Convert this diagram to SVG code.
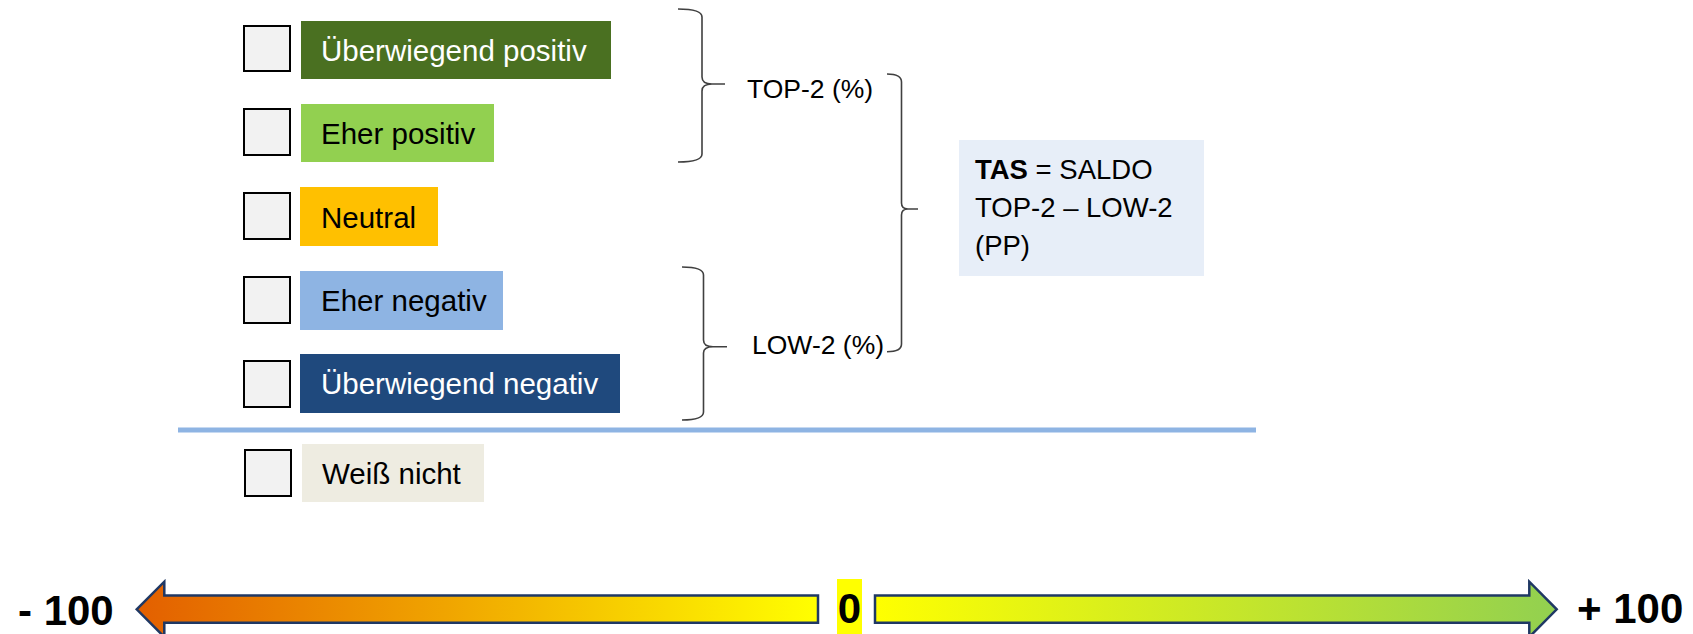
<svg xmlns="http://www.w3.org/2000/svg" width="1693" height="634" viewBox="0 0 1693 634">
  <style>
    .cb { fill: #F2F2F2; stroke: #000; stroke-width: 2; }
    .lbl { font-family: "Liberation Sans", Arial, sans-serif; font-size: 29.5px; }
    .wt { fill: #FFFFFF; }
    .bk { fill: #000000; }
    .brace { fill: none; stroke: #404040; stroke-width: 1.6; }
    .sm { font-family: "Liberation Sans", Arial, sans-serif; font-size: 26.5px; fill: #000; }
    .tas { font-family: "Liberation Sans", Arial, sans-serif; font-size: 27.5px; fill: #000; }
    .big { font-family: "Liberation Sans", Arial, sans-serif; font-size: 42px; font-weight: bold; fill: #000; }
    .arrow { stroke: #1F3864; stroke-width: 2.5; stroke-linejoin: miter; }
  </style>
  <defs>
    <linearGradient id="gradNeg" x1="0" y1="0" x2="1" y2="0">
      <stop offset="0" stop-color="#E35F00"/>
      <stop offset="0.45" stop-color="#F0A400"/>
      <stop offset="1" stop-color="#FFFF00"/>
    </linearGradient>
    <linearGradient id="gradPos" x1="0" y1="0" x2="1" y2="0">
      <stop offset="0" stop-color="#FFFF00"/>
      <stop offset="1" stop-color="#92D050"/>
    </linearGradient>
  </defs>
  <rect width="1693" height="634" fill="#FFFFFF"/>

  <g id="opt-ueberwiegend-positiv">
    <rect class="cb" x="244" y="26" width="46" height="45"/>
    <rect x="301" y="21" width="310" height="58" fill="#4A7021"/>
    <text class="lbl wt" x="321" y="61">Überwiegend positiv</text>
  </g>
  <g id="opt-eher-positiv">
    <rect class="cb" x="244" y="109" width="46" height="46"/>
    <rect x="301" y="104" width="193" height="58" fill="#92D050"/>
    <text class="lbl bk" x="321" y="144">Eher positiv</text>
  </g>
  <g id="opt-neutral">
    <rect class="cb" x="244" y="193" width="46" height="46"/>
    <rect x="300" y="187" width="138" height="59" fill="#FFC000"/>
    <text class="lbl bk" x="321" y="228">Neutral</text>
  </g>
  <g id="opt-eher-negativ">
    <rect class="cb" x="244" y="277" width="46" height="46"/>
    <rect x="300" y="271" width="203" height="59" fill="#8EB4E3"/>
    <text class="lbl bk" x="321" y="311">Eher negativ</text>
  </g>
  <g id="opt-ueberwiegend-negativ">
    <rect class="cb" x="244" y="361" width="46" height="46"/>
    <rect x="300" y="354" width="320" height="59" fill="#1F497D"/>
    <text class="lbl wt" x="321" y="394">Überwiegend negativ</text>
  </g>
  <g id="separator">
    <rect x="178" y="427.5" width="1078" height="5" fill="#8EB4E3"/>
  </g>
  <g id="opt-weiss-nicht">
    <rect class="cb" x="245" y="450" width="46" height="46"/>
    <rect x="302" y="444" width="182" height="58" fill="#EEECE1"/>
    <text class="lbl bk" x="322" y="484">Weiß nicht</text>
  </g>

  <g id="connectors">
    <path class="brace" d="M678,9 Q702,9 702,17 L702,77 Q702,84 712,84 L725,84 M712,84 Q702,84 702,91 L702,154 Q702,162 678,162"/>
    <path class="brace" d="M682,267 Q703.5,267 703.5,275 L703.5,340 Q703.5,346.7 713,346.7 L727,346.7 M713,346.7 Q703.5,346.7 703.5,353 L703.5,412 Q703.5,420 682,420"/>
    <path class="brace" d="M887,74 Q901.5,74 901.5,82 L901.5,203 Q901.5,209 908,209 L918,209 M908,209 Q901.5,209 901.5,215 L901.5,344 Q901.5,351.7 887,351.7"/>
  </g>

  <g id="top2">
    <text class="sm" x="747" y="98">TOP-2 (%)</text>
  </g>
  <g id="low2">
    <text class="sm" x="752" y="354">LOW-2 (%)</text>
  </g>
  <g id="tas">
    <rect x="959" y="140" width="245" height="136" fill="#E7EEF8"/>
    <text class="tas" x="975" y="179"><tspan font-weight="bold">TAS</tspan> = SALDO</text>
    <text class="tas" x="975" y="217">TOP-2 – LOW-2</text>
    <text class="tas" x="975" y="255">(PP)</text>
  </g>

  <g id="scale">
    <polygon class="arrow" fill="url(#gradNeg)" points="136.7,609.3 164.3,581.7 164.3,595.5 818,595.5 818,622.7 164.3,622.7 164.3,637"/>
    <polygon class="arrow" fill="url(#gradPos)" points="875,595.5 1529.3,595.5 1529.3,581.7 1556.7,609.3 1529.3,637 1529.3,622.7 875,622.7"/>
    <text class="big" x="18" y="625">- 100</text>
    <rect x="837" y="579" width="25" height="56" fill="#FFFF00"/>
    <text class="big" x="849.5" y="623" text-anchor="middle" font-size="40">0</text>
    <text class="big" x="1577" y="623">+ 100</text>
  </g>
</svg>
